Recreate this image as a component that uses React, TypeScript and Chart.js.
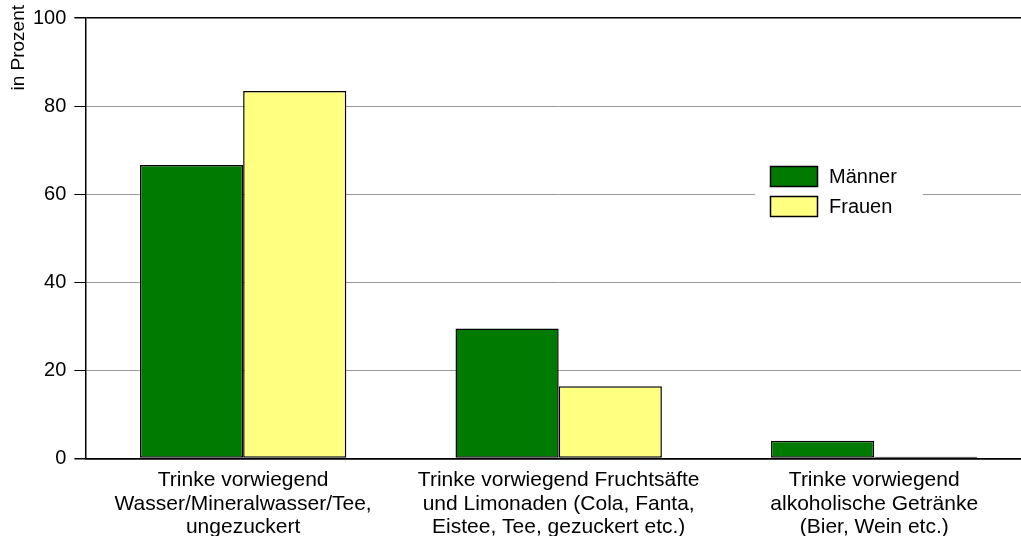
import React, { useEffect, useRef } from "react";
import { Chart, registerables } from "chart.js";

Chart.register(...registerables);

const categories: string[][] = [
  ["Trinke vorwiegend", "Wasser/Mineralwasser/Tee,", "ungezuckert"],
  ["Trinke vorwiegend Fruchtsäfte", "und Limonaden (Cola, Fanta,", "Eistee, Tee, gezuckert etc.)"],
  ["Trinke vorwiegend", "alkoholische Getränke", "(Bier, Wein etc.)"],
];
const maenner: number[] = [66.6, 29.5, 4.0];
const frauen: number[] = [83.4, 16.4, 0.4];
const seriesNames: string[] = ["Männer", "Frauen"];
const seriesColors: string[] = ["#007a00", "#ffff80"];
const yTitle = "in Prozent";

const FONT = "'Liberation Sans', Arial, sans-serif";

const legendPlugin = {
  id: "boxLegend",
  afterDatasetsDraw(chart: any) {
    const ctx = chart.ctx;
    ctx.save();
    ctx.fillStyle = "#ffffff";
    ctx.fillRect(755, 157, 168, 76);
    ctx.font = `20px ${FONT}`;
    ctx.textBaseline = "middle";
    chart.data.datasets.forEach((ds: any, i: number) => {
      const by = 168 + i * 30;
      ctx.fillStyle = ds.backgroundColor;
      ctx.fillRect(770, by, 48, 21);
      ctx.strokeStyle = "#000";
      ctx.lineWidth = 1.5;
      ctx.strokeRect(770.5, by + 0.5, 47, 20);
      ctx.fillStyle = "#000";
      ctx.fillText(ds.label, 829, by + 11);
    });
    ctx.restore();
  },
};

const yTitlePlugin = {
  id: "yTitleTop",
  afterDraw(chart: any) {
    const ctx = chart.ctx;
    ctx.save();
    ctx.translate(19, 7);
    ctx.rotate(-Math.PI / 2);
    ctx.font = `19px ${FONT}`;
    ctx.fillStyle = "#000";
    ctx.textAlign = "right";
    ctx.textBaseline = "middle";
    ctx.fillText(yTitle, 0, 0);
    ctx.restore();
  },
};

export default function App() {
  const ref = useRef<HTMLCanvasElement | null>(null);
  useEffect(() => {
    document.body.style.margin = "0";
    document.body.style.overflow = "hidden";
    const chart = new Chart(ref.current as HTMLCanvasElement, {
      type: "bar",
      data: {
        labels: categories,
        datasets: [
          {
            label: seriesNames[0],
            data: maenner,
            backgroundColor: seriesColors[0],
            borderColor: "#000",
            borderWidth: 1.5,
            borderSkipped: false,
          },
          {
            label: seriesNames[1],
            data: frauen,
            backgroundColor: seriesColors[1],
            borderColor: "#000",
            borderWidth: 1.5,
            borderSkipped: false,
          },
        ],
      },
      options: {
        animation: false,
        responsive: false,
        maintainAspectRatio: false,
        layout: { padding: { top: 4, right: 0, left: 25, bottom: 0 } },
        datasets: { bar: { categoryPercentage: 0.654, barPercentage: 1 } },
        plugins: { legend: { display: false }, tooltip: { enabled: false } },
        scales: {
          x: {
            grid: { display: false, drawTicks: false },
            border: { display: true, color: "#000", width: 1.5 },
            ticks: {
              color: "#000",
              font: { family: FONT, size: 21, lineHeight: 1.12 },
              maxRotation: 0,
              autoSkip: false,
              padding: 10,
            },
          },
          y: {
            min: 0,
            max: 100,
            ticks: {
              stepSize: 20,
              color: "#000",
              font: { family: FONT, size: 20 },
              padding: 8,
            },
            grid: {
              color: (c: any) => (c.tick && (c.tick.value === 0 || c.tick.value === 100) ? "#000" : "#999"),
              lineWidth: (c: any) => (c.tick && (c.tick.value === 0 || c.tick.value === 100) ? 1.5 : 1),
              tickColor: "#000",
              tickLength: 11,
            },
            border: { display: true, color: "#000", width: 1.5 },
          },
        },
      },
      plugins: [legendPlugin, yTitlePlugin],
    });
    return () => chart.destroy();
  }, []);
  return (
    <div style={{ position: "fixed", left: 0, top: -2, width: 1032, height: 551 }}>
      <canvas ref={ref} width={1032} height={551} style={{ display: "block" }} />
    </div>
  );
}
